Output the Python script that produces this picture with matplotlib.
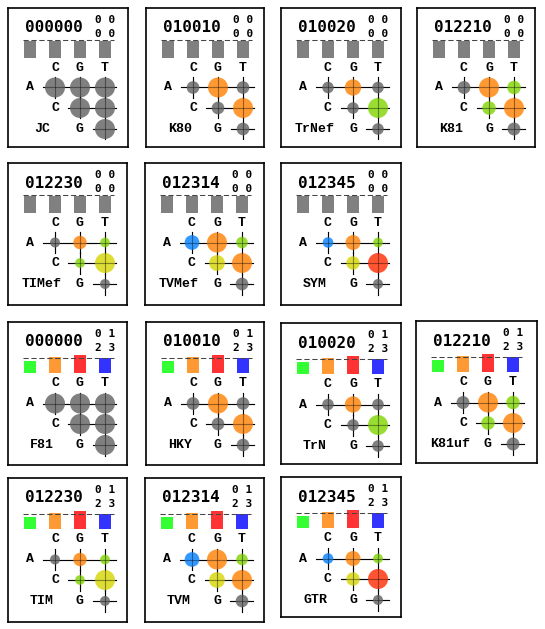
import numpy as np
import matplotlib
matplotlib.use("Agg")
import matplotlib.pyplot as plt
from matplotlib.patches import Circle

W, H = 545, 629

# ── data ─────────────────────────────────────────────────────────
models = ["JC", "K80", "TrNef", "K81", "TIMef", "TVMef", "SYM",
          "F81", "HKY", "TrN", "K81uf", "TIM", "TVM", "GTR"]
rate_codes = ["000000", "010010", "010020", "012210", "012230", "012314", "012345",
              "000000", "010010", "010020", "012210", "012230", "012314", "012345"]
freq_codes = ["0000"] * 7 + ["0123"] * 7
nucs = ["A", "C", "G", "T"]

rates = [
    [1.00, 1.00, 1.00, 1.00, 1.00, 1.00],   # JC
    [1.00, 2.50, 1.00, 1.00, 2.50, 1.00],   # K80
    [1.00, 2.00, 1.00, 1.00, 3.00, 1.00],   # TrNef
    [1.00, 2.40, 1.10, 1.10, 2.40, 1.00],   # K81
    [1.00, 1.80, 0.95, 0.95, 4.00, 1.00],   # TIMef
    [1.36, 2.50, 0.84, 1.56, 2.50, 1.00],   # TVMef
    [1.12, 2.25, 0.95, 1.80, 4.00, 1.00],   # SYM
    [1.00, 1.00, 1.00, 1.00, 1.00, 1.00],   # F81
    [1.00, 2.50, 1.00, 1.00, 2.50, 1.00],   # HKY
    [1.00, 2.00, 1.00, 1.00, 3.00, 1.00],   # TrN
    [1.00, 2.40, 1.10, 1.10, 2.40, 1.00],   # K81uf
    [1.00, 1.80, 0.95, 0.95, 4.00, 1.00],   # TIM
    [1.36, 2.50, 0.84, 1.56, 2.50, 1.00],   # TVM
    [1.12, 2.25, 0.95, 1.80, 4.00, 1.00],   # GTR
]
freqs_equal = [0.25, 0.25, 0.25, 0.25]
freqs_unequal = [0.205, 0.265, 0.31, 0.25]

# ── style / layout ───────────────────────────────────────────────
rate_palette = ["#3399FF", "#FF9933", "#99DD33", "#DDDD33", "#FF5533"]
gt_gray = "#808080"
freq_colors = ["#33FF33", "#FF9933", "#FF3333", "#3333FF"]

# panel boxes in pixels: x0, y0, w, h
boxes = [
    (8, 8, 120, 139), (146, 8, 118, 139), (281, 8, 120, 139), (417, 8, 118, 139),
    (8, 163, 119, 142), (145, 163, 119, 142), (281, 163, 120, 142),
    (8, 322, 119, 143), (146, 322, 118, 143), (281, 323, 120, 141), (416, 321, 121, 142),
    (8, 478, 119, 144), (145, 478, 119, 144), (281, 477, 120, 140),
]
xs = [22, 47, 72, 97]
pair_idx = [(0, 1), (0, 2), (0, 3), (1, 2), (1, 3), (2, 3)]

TITLE_FONT = dict(family="DejaVu Sans Mono", weight="bold")
LABEL_FONT = dict(family="Liberation Mono", weight="bold", fontsize=9.5)

fig = plt.figure(figsize=(W / 100, H / 100), dpi=100)

for k, model in enumerate(models):
    x0, y0, w, h = boxes[k]
    ax = fig.add_axes([x0 / W, 1 - (y0 + h) / H, w / W, h / H])
    ax.set_xlim(0, w)
    ax.set_ylim(h, 0)
    ax.set_xticks([])
    ax.set_yticks([])
    for sp in ax.spines.values():
        sp.set_linewidth(1.2)

    code = rate_codes[k]
    fc = freq_codes[k]
    equal = fc == "0000"

    # title codes
    ax.text(46, 20, code, ha="center", va="center", fontsize=11.5, **TITLE_FONT)
    ax.text(97, 12, f"{fc[0]} {fc[1]}", ha="center", va="center", fontsize=8, **TITLE_FONT)
    ax.text(97, 26, f"{fc[2]} {fc[3]}", ha="center", va="center", fontsize=8, **TITLE_FONT)

    # base frequency bars
    if equal:
        freqs, cols, base, scale = freqs_equal, [gt_gray] * 4, 49.5, 66
        dash_y = base - 0.25 * scale - 1
        off = 0
    else:
        freqs, cols, base, scale = freqs_unequal, freq_colors, 50.5, 58
        dash_y = base - 0.25 * scale
        off = 2
    ax.bar(xs, [-f * scale for f in freqs], width=12, bottom=base, color=cols, zorder=2)
    ax.plot([15, 106], [dash_y, dash_y], color="#444444", lw=0.75,
            dashes=(5, 2.6), zorder=3)

    # rate grid
    rows = [79.5 + off, 100 + off, 121 + off]
    for j in range(1, 4):
        ax.text(xs[j], 60 + off * 0.7, nucs[j], ha="center", va="center", **LABEL_FONT)
    for i in range(3):
        ax.text(xs[i], rows[i], nucs[i], ha="center", va="center", **LABEL_FONT)
    ax.text(34, rows[2], model, ha="center", va="center", **LABEL_FONT)

    rmax = max(rates[k])
    gt_code = code[5]
    for p, (i, j) in enumerate(pair_idx):
        c = code[p]
        color = gt_gray if c == gt_code else rate_palette[int(c)]
        r = 10 * np.sqrt(rates[k][p] / rmax)
        ax.add_patch(Circle((xs[j], rows[i]), r, facecolor=color, edgecolor="none", zorder=2))

    # cross lines: solid below circles, translucent above
    for z, a in [(1, 1.0), (3, 0.4)]:
        for i in range(3):
            ax.plot([xs[i + 1] - 12, xs[3] + 11], [rows[i], rows[i]],
                    color="black", lw=0.8, alpha=a, zorder=z)
        for (i, j) in pair_idx:
            ax.plot([xs[j], xs[j]], [rows[i] - 10.5, rows[i] + 10.5],
                    color="black", lw=0.8, alpha=a, zorder=z)

fig.savefig("out.png", dpi=100)
